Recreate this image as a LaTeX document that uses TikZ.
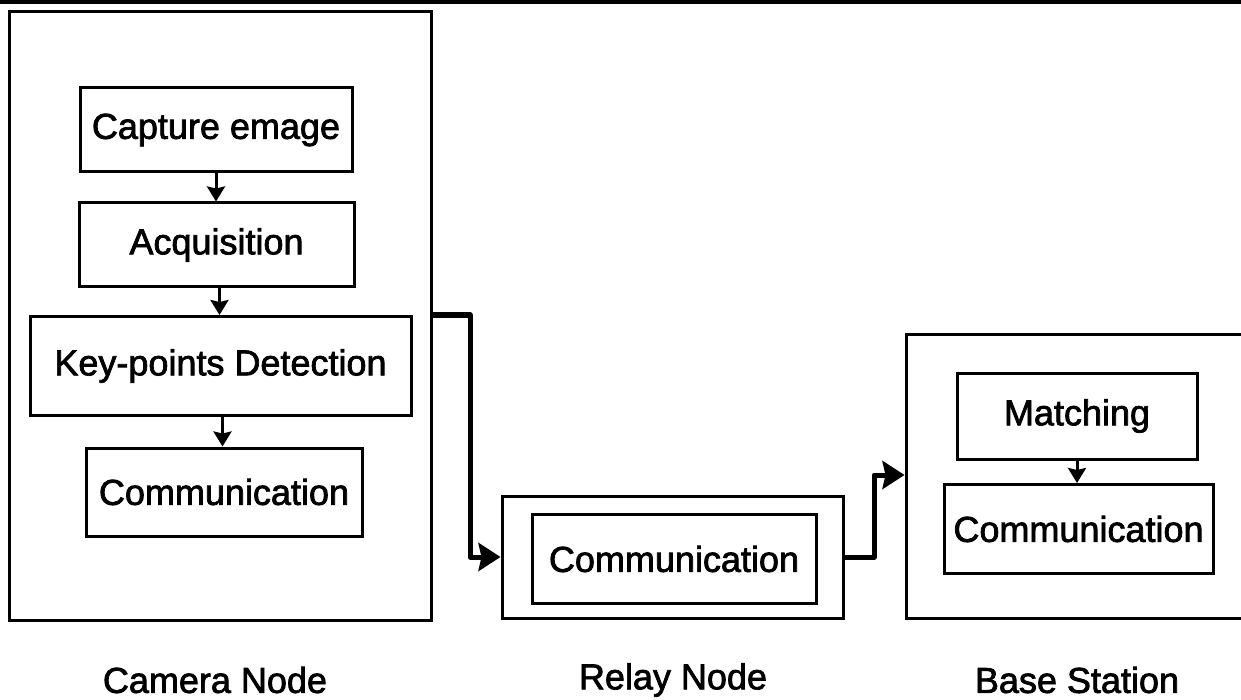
\documentclass[tikz,border=0pt]{standalone}
\usepackage{fontspec}
\setmainfont{Liberation Sans}
\newfontfamily\diagfont{Liberation Sans}[FakeBold=2]
\usetikzlibrary{arrows.meta,calc}
\begin{document}
\begin{tikzpicture}[x=1pt,y=-1pt,
  every node/.style={font=\diagfont\fontsize{36}{43}\selectfont},
  box/.style={draw=black,line width=3pt,rectangle,inner sep=0pt,minimum width=#1},
  box/.default=10pt,
  flow/.style={line width=3pt,-{Stealth[length=15pt,width=18pt,inset=2pt]}},
  link/.style={line width=5pt,line join=round,-{Stealth[length=22pt,width=28pt,inset=3pt]}}
]
\useasboundingbox (0,0) rectangle (1241,700);
% top rule
\fill[black] (0,0) rectangle (1241,4);

% camera node
\node[box=422pt,minimum height=608pt] (cam) at (220,316) {};
\node[box=272pt,minimum height=84pt] (cap) at (216,130) {Capture emage};
\node[box=275pt,minimum height=84pt] (acq) at (216.5,245) {Acquisition};
\node[box=381pt,minimum height=99pt] (key) at (220.5,366) {Key-points Detection};
\node[box=276pt,minimum height=88pt] (com1) at (224,492) {Communication};
\coordinate (a1) at (cap.south);
\coordinate (a2) at ($(acq.south)+(3,0)$);
\coordinate (a3) at ($(key.south)+(2,0)$);
\draw[flow] (a1) -- (a1 |- acq.north);
\draw[flow] (a2) -- (a2 |- key.north);
\draw[flow] (a3) -- (a3 |- com1.north);

% relay node
\node[box=341pt,minimum height=122pt] (relay) at (672.5,557) {};
\node[box=284pt,minimum height=89pt] (com2) at (674,559) {Communication};

% base station (box runs past the right edge)
\node[box=355pt,minimum height=284pt] (base) at (1083.5,476) {};
\node[box=240pt,minimum height=86pt] (match) at (1077,416) {Matching};
\node[box=269pt,minimum height=89pt] (com3) at (1078.5,529) {Communication};
\coordinate (a4) at (match.south);
\draw[flow] (a4) -- (a4 |- com3.north);

% links between nodes
\coordinate (c1) at (cam.east |- 0,315);
\coordinate (c2) at (base.west |- 0,475);
\draw[link] (c1) -- (470,315) -- (470,557) -- (relay.west);
\draw[link] (relay.east) -- (874,557) -- (874,475) -- (c2);

% captions
\node (lcam) at (215,680) {Camera Node};
\node (lrelay) at (673,680) {Relay Node};
\node (lbase) at (1077,680) {Base Station};
\end{tikzpicture}
\end{document}
